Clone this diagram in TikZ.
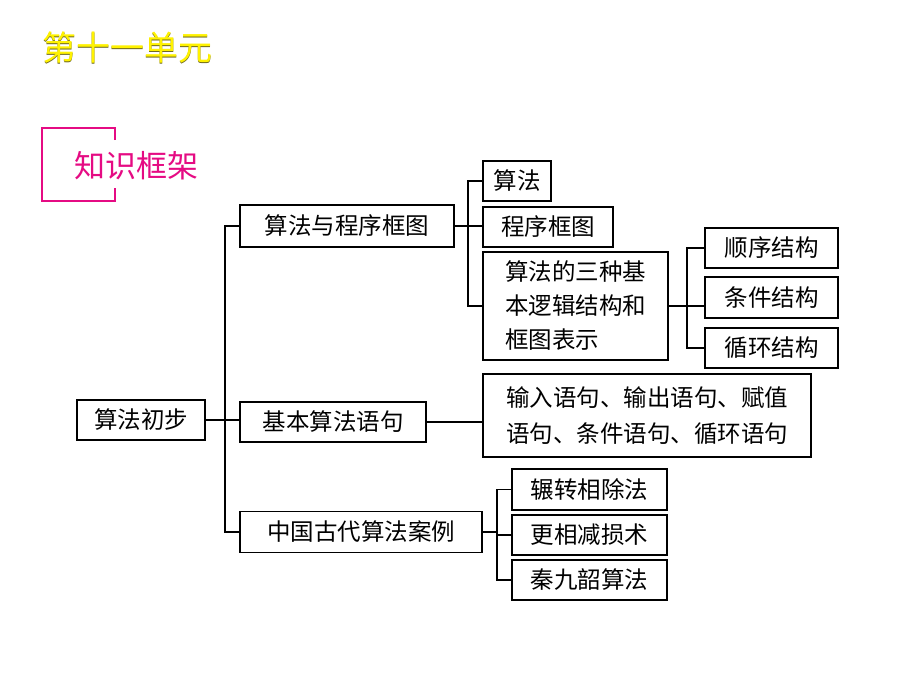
\documentclass[tikz,border=0pt]{standalone}
\usepackage{fontspec}
\setmainfont{Noto Sans CJK SC}
\begin{document}
\begin{tikzpicture}[x=1pt,y=-1pt,
  bx/.style={draw,line width=1.8pt,inner sep=0pt,font=\fontsize{23.5}{28}\selectfont,align=left},
  ln/.style={line width=1.6pt},
  tt/.style={font=\fontsize{34}{38}\selectfont}]
\useasboundingbox (0,0) rectangle (920,690);
\node[tt,text=olive!70!black] (tsh) at (127.8,48.8) {第十一单元};
\node[tt,text=yellow] (title) at (127,48) {第十一单元};
\draw[magenta!85!purple,line width=1.2pt] (115,140) -- (115,128) -- (42,128) -- (42,201) -- (115,201) -- (115,188);
\node[font=\fontsize{31}{34}\selectfont,text=magenta!85!purple] (kj) at (136,166) {知识框架};
\node[bx,minimum width=128,minimum height=40] (root) at (141,420) {算法初步};
\node[bx,minimum width=214,minimum height=42] (a) at (347,226) {算法与程序框图};
\node[bx,minimum width=186,minimum height=40] (b) at (333,422) {基本算法语句};
\node[bx,minimum width=242,minimum height=41] (c) at (361,532) {中国古代算法案例};
\node[bx,minimum width=68,minimum height=40] (a1) at (517,181) {算法};
\node[bx,minimum width=130,minimum height=40] (a2) at (548,227) {程序框图};
\node[bx,minimum width=185,minimum height=108,font=\fontsize{23.5}{34}\selectfont] (a3) at (575.5,306) {算法的三种基\\本逻辑结构和\\框图表示};
\node[bx,minimum width=133,minimum height=40] (s1) at (771.5,248) {顺序结构};
\node[bx,minimum width=133,minimum height=41] (s2) at (771.5,297.5) {条件结构};
\node[bx,minimum width=133,minimum height=40] (s3) at (771.5,348) {循环结构};
\node[bx,minimum width=328,minimum height=83,font=\fontsize{23.5}{36}\selectfont] (b1) at (647,415.5) {输入语句、输出语句、赋值\\语句、条件语句、循环语句};
\node[bx,minimum width=155,minimum height=41] (c1) at (589.5,489.5) {辗转相除法};
\node[bx,minimum width=155,minimum height=40] (c2) at (589.5,535) {更相减损术};
\node[bx,minimum width=155,minimum height=40] (c3) at (589.5,580) {秦九韶算法};
\coordinate (t) at (225,420);
\draw[ln] (root.east) -- (t);
\draw[ln] (a.west) -| (t) |- (c.west);
\draw[ln] (t) -- (t -| b.west);
\draw[ln] (b.east) -- (b.east -| b1.west);
\draw[ln] (a.east) -- (a.east -| a2.west);
\draw[ln] (a1.west) -| (468,306) -- (a3.west);
\draw[ln] (a3.east) -- (a3.east -| s2.west);
\draw[ln] (s1.west) -| (687,348) -- (s3.west);
\draw[ln] (c.east) -- (497,532);
\draw[ln] (c1.west) -| (497,580) -- (c3.west);
\draw[ln] (497,535) -- (c2.west);
\end{tikzpicture}
\end{document}
